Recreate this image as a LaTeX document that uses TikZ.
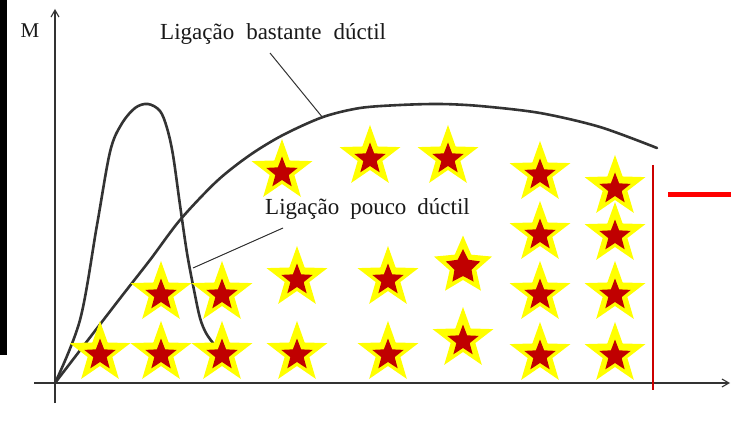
\documentclass[tikz,border=0pt]{standalone}
\usepackage{fontspec}
\setmainfont{Liberation Serif}
\usetikzlibrary{arrows.meta}
\definecolor{starred}{HTML}{C00000}
\definecolor{staryellow}{HTML}{FFFF00}
\definecolor{inkgray}{HTML}{333333}
\definecolor{linered}{HTML}{CC0000}
\definecolor{barred}{HTML}{FF0000}
\tikzset{
  curveline/.style={line width=2.6pt, draw=inkgray, line join=round, line cap=round},
  axisline/.style={line width=1.1pt, draw=inkgray},
  leader/.style={line width=1pt, draw=inkgray},
  lbl/.style={font=\fontsize{23}{25}\selectfont, inner sep=0pt, text=black!90},
}
% \mystar{x}{y}{outer}{inner}{colour}
\newcommand\mystar[5]{%
  \fill[#5, shift={(#1,#2)}] (-90:#3) -- (-54:#4) -- (-18:#3) -- (18:#4) -- (54:#3) -- (90:#4) -- (126:#3) -- (162:#4) -- (198:#3) -- (234:#4) -- cycle;}
\begin{document}
\begin{tikzpicture}[x=1pt,y=-1pt]
\useasboundingbox (0,0) rectangle (731,433);
\fill[white] (0,0) rectangle (731,433);
% black edge bar
\fill[black] (0,0) rectangle (7,355);
% axes
\coordinate (yb) at (55,403);
\coordinate (yt) at (55,9);
\coordinate (xl) at (34,383);
\coordinate (xr) at (730,383);
\draw[axisline,-{Straight Barb[length=7pt,width=8pt]}] (yb) -- (yt);
\draw[axisline,-{Straight Barb[length=7pt,width=8pt]}] (xl) -- (xr);
\node[lbl, font=\fontsize{21}{22}\selectfont, anchor=base] (m) at (30,38) {M};
% curves
\draw[curveline] plot[smooth, tension=0.5] coordinates {(55,383) (118,301) (150,260) (180,220) (217,181) (250,155) (283,135) (323,117) (360,108) (400,105) (440,104) (480,106) (540,113) (600,127) (657,148)};
\draw[curveline] plot[smooth, tension=0.55] coordinates {(55,383) (80,320) (97,225) (110,152) (121,125) (135,108) (148,104) (160,111) (167,128) (173,155) (180,205) (187,253) (194,290) (200,318) (206,333) (213,343)};
% labels
\node[lbl, anchor=base west] (tb) at (160,40) {Ligação\hspace{12pt}bastante\hspace{12pt}dúctil};
\node[lbl, anchor=base west] (tp) at (265,214) {Ligação\hspace{11pt}pouco\hspace{11pt}dúctil};
\coordinate (lb1) at (270,53);
\coordinate (lb2) at (323,118);
\coordinate (lp1) at (283,228);
\coordinate (lp2) at (193,268);
\draw[leader] (lb1) -- (lb2);
\draw[leader] (lp1) -- (lp2);
% red marks
\coordinate (rv1) at (653,165);
\coordinate (rv2) at (653,390);
\draw[line width=2.5pt, draw=linered] (rv1) -- (rv2);
\coordinate (rh1) at (668,194);
\coordinate (rh2) at (731,194);
\draw[line width=5pt, draw=barred] (rh1) -- (rh2);
% stars
\foreach \x/\y in {282/171, 370/157, 448/157, 540/173, 615/187,
  540/233, 615/234,
  161/293, 222/293, 297/278, 388/278, 540/293, 615/293,
  100/353, 161/353, 222/353, 297/353, 388/353, 463/339, 540/354, 615/354}{
  \mystar{\x}{\y}{32}{13}{staryellow}
  \mystar{\x}{\y+2}{16.5}{7}{starred}
}
\mystar{463}{266}{30.5}{14}{staryellow}
\mystar{463}{267}{18}{9}{starred}
\end{tikzpicture}
\end{document}
